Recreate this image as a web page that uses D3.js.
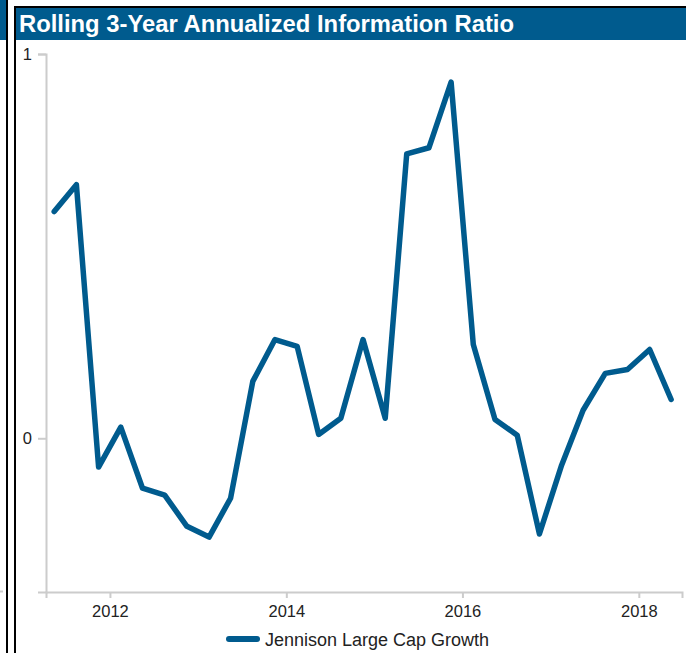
<!DOCTYPE html>
<html>
<head>
<meta charset="utf-8">
<script src="https://cdn.jsdelivr.net/npm/d3@7"></script>
<style>
  html, body { margin: 0; padding: 0; background: #fff; }
  svg { display: block; font-family: Arial, "Liberation Sans", sans-serif; }
</style>
</head>
<body>
<div class="graph_ir"></div>
<script>
// quarterly dates of the rolling window
const dates = [
  "2011-05-15", "2011-08-15", "2011-11-15", "2012-02-15", "2012-05-15", "2012-08-15",
  "2012-11-15", "2013-02-15", "2013-05-15", "2013-08-15", "2013-11-15", "2014-02-15",
  "2014-05-15", "2014-08-15", "2014-11-15", "2015-02-15", "2015-05-15", "2015-08-15",
  "2015-11-15", "2016-02-15", "2016-05-15", "2016-08-15", "2016-11-15", "2017-02-15",
  "2017-05-15", "2017-08-15", "2017-11-15", "2018-02-15", "2018-05-15"
];
// information ratio values
const infoRatio = [
  0.59, 0.66, -0.075, 0.029, -0.13, -0.148, -0.229, -0.257, -0.156, 0.148,
  0.257, 0.239, 0.01, 0.052, 0.257, 0.052, 0.74, 0.756, 0.927, 0.244,
  0.049, 0.008, -0.249, -0.07, 0.073, 0.169, 0.179, 0.231, 0.101
];
const seriesName = "Jennison Large Cap Growth";
const chartTitle = "Rolling 3-Year Annualized Information Ratio";
const yDomain = [-0.4, 1];
const yTicks = [0, 1];
const xDomain = ["2011-04-11", "2018-06-29"];
const xTickYears = [2012, 2014, 2016, 2018];

const parse = d3.timeParse("%Y-%m-%d");
const data = dates.map((d, i) => ({date: parse(d), value: infoRatio[i]}));

const width = 686, height = 653;
const blue = "#005b8e";

const svg = d3.select(".graph_ir").append("svg")
  .attr("width", width).attr("height", height);

// neighbouring panel sliver on the far left
svg.append("rect").attr("x", 0).attr("y", 0).attr("width", 6).attr("height", 40).attr("fill", blue);
svg.append("line").attr("x1", 0).attr("x2", 3).attr("y1", 591.5).attr("y2", 591.5)
  .attr("stroke", "#ccc").attr("stroke-width", 2);
svg.append("rect").attr("x", 6).attr("y", 0).attr("width", 2).attr("height", height).attr("fill", "#000");

// panel frame + header
svg.append("rect").attr("x", 14).attr("y", 6).attr("width", width - 14).attr("height", 2).attr("fill", "#000");
svg.append("rect").attr("x", 14).attr("y", 6).attr("width", 2).attr("height", height - 6).attr("fill", "#000");
svg.append("rect").attr("x", 16).attr("y", 8).attr("width", width - 16).attr("height", 32).attr("fill", blue);
svg.append("text")
  .attr("x", 19).attr("y", 32)
  .attr("fill", "#fff")
  .attr("font-weight", "bold")
  .attr("font-size", 23.5)
  .attr("textLength", 495)
  .attr("lengthAdjust", "spacingAndGlyphs")
  .text(chartTitle);

// scales
const x = d3.scaleTime()
  .domain(xDomain.map(parse))
  .range([46, 682]);
const y = d3.scaleLinear()
  .domain(yDomain)
  .range([592, 54]);

// axes
const xAxis = d3.axisBottom(x)
  .tickValues(xTickYears.map(yr => new Date(yr, 0, 1)))
  .tickFormat(d3.timeFormat("%Y"))
  .tickSizeOuter(0)
  .tickSize(6)
  .tickPadding(7);
const gx = svg.append("g").attr("transform", "translate(0,592)").call(xAxis);

const yAxis = d3.axisLeft(y)
  .tickValues(yTicks)
  .tickFormat(d3.format("d"))
  .tickSizeOuter(0)
  .tickSize(8)
  .tickPadding(6);
const gy = svg.append("g").attr("transform", "translate(46,0)").call(yAxis);

[gx, gy].forEach(g => {
  g.selectAll("path, line").attr("stroke", "#ccc").attr("stroke-width", 2);
  g.selectAll("text").attr("fill", "#222").attr("font-size", 16.5)
    .attr("font-family", "Arial, 'Liberation Sans', sans-serif");
});

// the line
const lineGenerator = d3.line()
  .x(d => x(d.date))
  .y(d => y(d.value));

svg.append("path")
  .datum(data)
  .attr("d", lineGenerator)
  .attr("fill", "none")
  .attr("stroke", blue)
  .attr("stroke-width", 5.5)
  .attr("stroke-linejoin", "round")
  .attr("stroke-linecap", "round");

// legend
const legend = svg.append("g").attr("transform", "translate(229,639)");
legend.append("line")
  .attr("x1", 0).attr("x2", 28)
  .attr("y1", 0).attr("y2", 0)
  .attr("stroke", blue).attr("stroke-width", 6).attr("stroke-linecap", "round");
legend.append("text")
  .attr("x", 36).attr("y", 6.5)
  .attr("font-size", 18)
  .attr("fill", "#222")
  .text(seriesName);
</script>
</body>
</html>
